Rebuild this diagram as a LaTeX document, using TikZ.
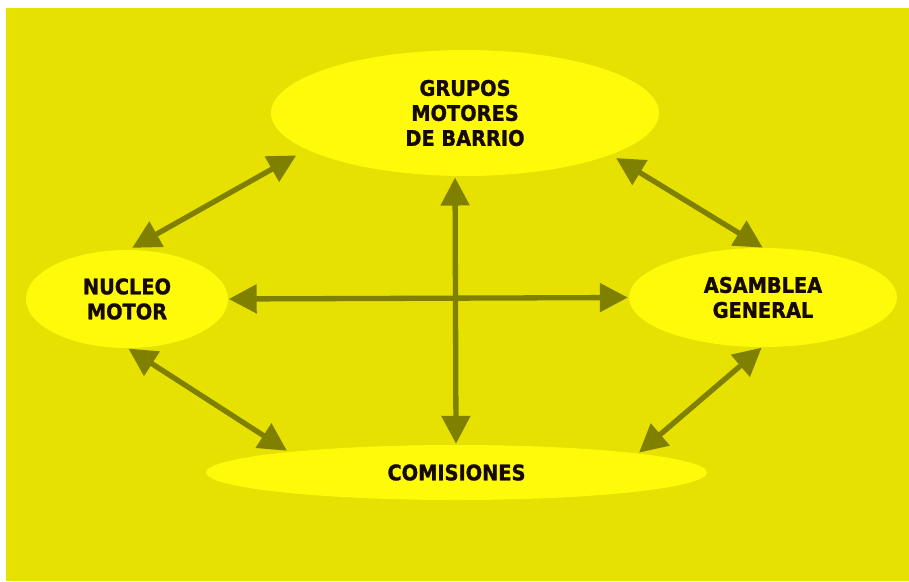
\documentclass[tikz,border=0pt]{standalone}
\usepackage{fontspec}
\setmainfont{DejaVu Sans Condensed}[BoldFeatures={FakeBold=1.2}]
\usetikzlibrary{shapes.geometric,arrows.meta}
\definecolor{bgyellow}{RGB}{230,225,0}
\definecolor{elyellow}{RGB}{255,250,10}
\definecolor{arrolive}{RGB}{128,128,0}
\definecolor{txtdark}{RGB}{22,10,0}
\tikzset{
  bubble/.style={ellipse, fill=elyellow, draw=none, inner sep=0pt, align=center,
    text=txtdark, font=\bfseries\fontsize{21.5}{25}\selectfont},
  link/.style={line width=5.3pt, draw=arrolive,
    arrows={Triangle[length=28pt,width=28pt]-Triangle[length=28pt,width=28pt]}}
}
\begin{document}
\begin{tikzpicture}[x=1pt,y=-1pt]
\useasboundingbox (0,0) rectangle (909,581);
\fill[bgyellow] (6,8) rectangle (909,581);
\node[bubble, minimum width=388pt, minimum height=126pt] (g) at (465,113) {GRUPOS\\MOTORES\\DE BARRIO};
\node[bubble, minimum width=202pt, minimum height=98pt] (n) at (127,299) {NUCLEO\\MOTOR};
\node[bubble, minimum width=268pt, minimum height=99pt] (a) at (763,297.5) {ASAMBLEA\\GENERAL};
\node[bubble, minimum width=501pt, minimum height=55pt] (c) at (456.5,472.5) {COMISIONES};
\draw[link, shorten <=4pt, shorten >=11.9pt] (n.88.3) -- (g.193.05);
\draw[link, shorten <=6.3pt, shorten >=0.3pt] (g.344.4) -- (a.90.8);
\draw[link, shorten <=0.5pt, shorten >=1pt] (n.0) -- (a.180);
\draw[link, shorten <=1.4pt, shorten >=1pt] (g.261.7) -- (c.91.8);
\draw[link, shorten <=0.7pt, shorten >=2.2pt] (n.271.8) -- (c.173.66);
\draw[link, shorten <=0.7pt, shorten >=1.2pt] (a.269.2) -- (c.6.37);
\end{tikzpicture}
\end{document}
